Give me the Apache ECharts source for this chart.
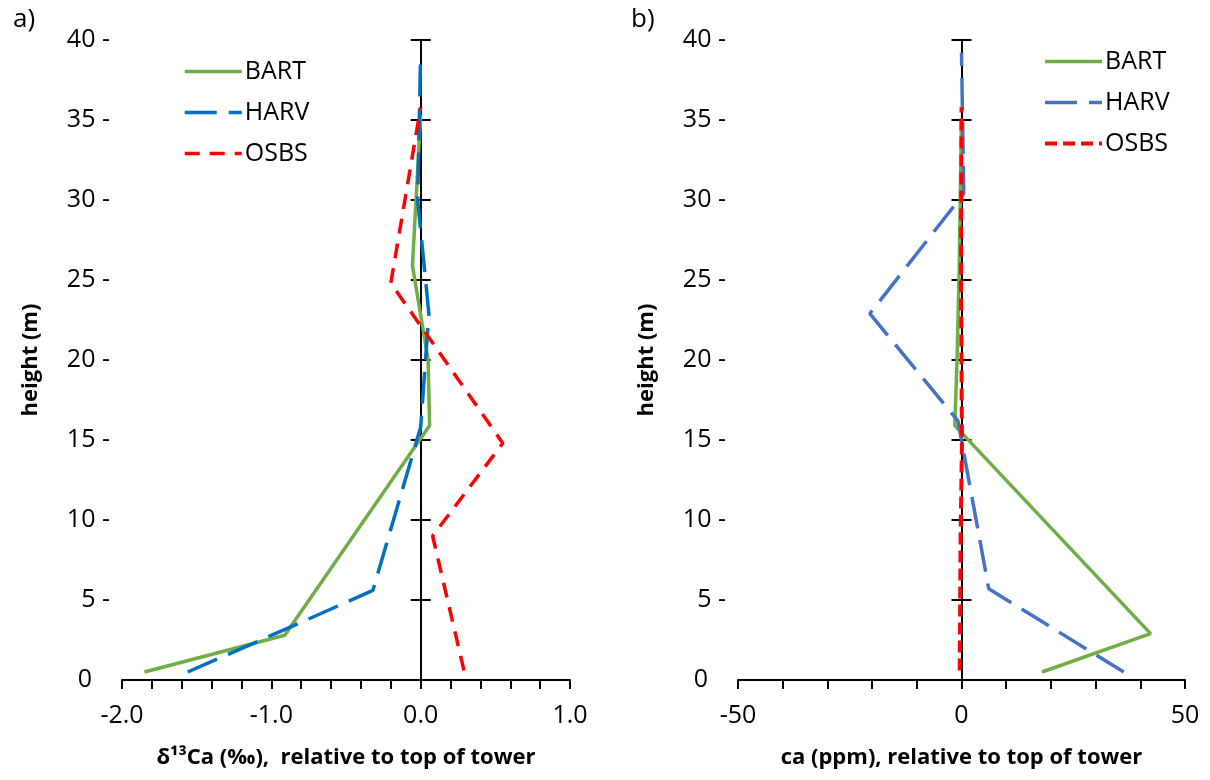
<!DOCTYPE html>
<html>
<head>
<meta charset="utf-8">
<title>Tower profiles</title>
<script src="https://cdn.jsdelivr.net/npm/echarts@6/dist/echarts.min.js"></script>
<style>
  html, body { margin: 0; padding: 0; background: #fff; }
  #chart { width: 1210px; height: 780px; }
</style>
</head>
<body>
<div id="chart"></div>
<script>
// panel a): d13C of air, panel b): CO2, both relative to top of tower
const bartHeightA = [0.5, 2.8, 15.9, 20.0, 25.9, 35.3];
const bartD13C    = [-1.85, -0.91, 0.06, 0.05, -0.055, 0.0];
const harvHeightA = [0.5, 3.4, 5.6, 15.8, 22.9, 30.0, 39.2];
const harvD13C    = [-1.56, -0.85, -0.32, 0.0, 0.055, -0.02, 0.0];
const osbsHeightA = [0.6, 9.0, 14.8, 24.8, 35.8];
const osbsD13C    = [0.29, 0.08, 0.55, -0.2, 0.0];

const bartHeightB = [0.5, 2.9, 15.9, 20.0, 25.9, 35.1];
const bartCO2     = [18.0, 42.3, -1.5, -1.0, -0.5, 0.0];
const harvHeightB = [0.5, 5.7, 16.2, 22.9, 30.4, 39.2];
const harvCO2     = [36.3, 6.1, -0.8, -20.5, 0.5, 0.0];
const osbsHeightB = [0.6, 9.0, 14.8, 24.8, 35.8];
const osbsCO2     = [-0.4, -0.2, 0.1, -0.1, 0.0];

const font = "'Open Sans', 'Noto Sans', sans-serif";
const pairs = (xs, hs) => xs.map((x, i) => [x, hs[i]]);

// line looks, shared by the plot lines and the legend keys
const bartLook  = { color: '#70ad47', width: 3.5, type: 'solid' };
const harvLookA = { color: '#0070c0', width: 3.5, type: [32, 12] };
const harvLookB = { color: '#4472c4', width: 3.5, type: [32, 12] };
const osbsLookA = { color: '#ff0000', width: 3.5, type: [15, 10] };
const osbsLookB = { color: '#ff0000', width: 4, type: [12, 6] };

function heightAxes(gridIndex, xIndex) {
  const zeroAxis = inside => ({
    gridIndex: gridIndex,
    type: 'value', min: 0, max: 40, interval: 5,
    position: 'left',
    axisLine: { show: true, onZero: true, onZeroAxisIndex: xIndex, lineStyle: { color: '#000', width: 2 } },
    axisTick: { show: true, inside: inside, length: 10, lineStyle: { color: '#000', width: 2 } },
    axisLabel: { show: false },
    splitLine: { show: false }
  });
  return [
    {
      gridIndex: gridIndex,
      type: 'value', min: 0, max: 40, interval: 5,
      position: 'left',
      axisLine: { show: false },
      axisTick: { show: false },
      splitLine: { show: false },
      axisLabel: {
        color: '#000', fontSize: 25, fontFamily: font, margin: 12,
        formatter: v => v === 0 ? '{z|0}' : v + ' -',
        rich: { z: { color: '#000', fontSize: 25, fontFamily: font, padding: [0, 18, 0, 0] } }
      },
      name: 'height (m)',
      nameLocation: 'middle',
      nameGap: 80,
      nameTextStyle: { color: '#000', fontSize: 22, fontWeight: 'bold', fontFamily: font }
    },
    zeroAxis(false),
    zeroAxis(true)
  ];
}

function valueAxis(gridIndex, min, max, interval, digits, name) {
  return {
    gridIndex: gridIndex,
    type: 'value', min: min, max: max, interval: interval,
    axisLine: { onZero: false, lineStyle: { color: '#000', width: 2 } },
    axisTick: { show: true, length: 9, lineStyle: { color: '#000', width: 2 } },
    minorTick: { show: true, splitNumber: 5, length: 9, lineStyle: { color: '#000', width: 2 } },
    splitLine: { show: false },
    axisLabel: { color: '#000', fontSize: 25, fontFamily: font, margin: 23, formatter: v => v.toFixed(digits) },
    name: name,
    nameLocation: 'middle',
    nameGap: 67,
    nameTextStyle: { color: '#000', fontSize: 22, fontWeight: 'bold', fontFamily: font }
  };
}

function line(name, data, look, xIndex, yIndex) {
  return {
    name: name, type: 'line', data: data,
    xAxisIndex: xIndex, yAxisIndex: yIndex,
    symbol: 'none', silent: true, animation: false,
    lineStyle: look,
    itemStyle: { color: look.color }
  };
}

function legendItem(name, look) {
  return { name: name, itemStyle: { opacity: 0 }, lineStyle: Object.assign({}, look) };
}

const legendBase = {
  orient: 'vertical',
  itemWidth: 57, itemHeight: 14, itemGap: 16,
  textStyle: { color: '#000', fontSize: 25, fontFamily: font, padding: [0, 0, 0, -2] },
  formatter: n => n.trim()
};

const chart = echarts.init(document.getElementById('chart'), null, { renderer: 'canvas' });
chart.setOption({
  backgroundColor: '#fff',
  animation: false,
  title: [
    { text: 'a)', left: 8, top: 2, textStyle: { color: '#000', fontSize: 26, fontWeight: 'normal', fontFamily: font } },
    { text: 'b)', left: 626, top: 2, textStyle: { color: '#000', fontSize: 26, fontWeight: 'normal', fontFamily: font } }
  ],
  legend: [
    Object.assign({
      data: [legendItem('BART', bartLook), legendItem('HARV', harvLookA), legendItem('OSBS', osbsLookA)],
      left: 178, top: 54
    }, legendBase),
    Object.assign({
      data: [legendItem('BART ', bartLook), legendItem('HARV ', harvLookB), legendItem('OSBS ', osbsLookB)],
      left: 1038, top: 44
    }, legendBase)
  ],
  grid: [
    { left: 122, right: 640, top: 40, bottom: 100, outerBoundsMode: 'none' },
    { left: 738, right: 25, top: 40, bottom: 100, outerBoundsMode: 'none' }
  ],
  xAxis: [
    valueAxis(0, -2, 1, 1, 1, 'δ¹³Ca (‰),  relative to top of tower'),
    valueAxis(1, -50, 50, 50, 0, 'ca (ppm), relative to top of tower')
  ],
  yAxis: heightAxes(0, 0).concat(heightAxes(1, 1)),
  series: [
    line('BART', pairs(bartD13C, bartHeightA), bartLook, 0, 0),
    line('HARV', pairs(harvD13C, harvHeightA), harvLookA, 0, 0),
    line('OSBS', pairs(osbsD13C, osbsHeightA), osbsLookA, 0, 0),
    line('BART ', pairs(bartCO2, bartHeightB), bartLook, 1, 3),
    line('HARV ', pairs(harvCO2, harvHeightB), harvLookB, 1, 3),
    line('OSBS ', pairs(osbsCO2, osbsHeightB), osbsLookB, 1, 3)
  ]
});
</script>
</body>
</html>
